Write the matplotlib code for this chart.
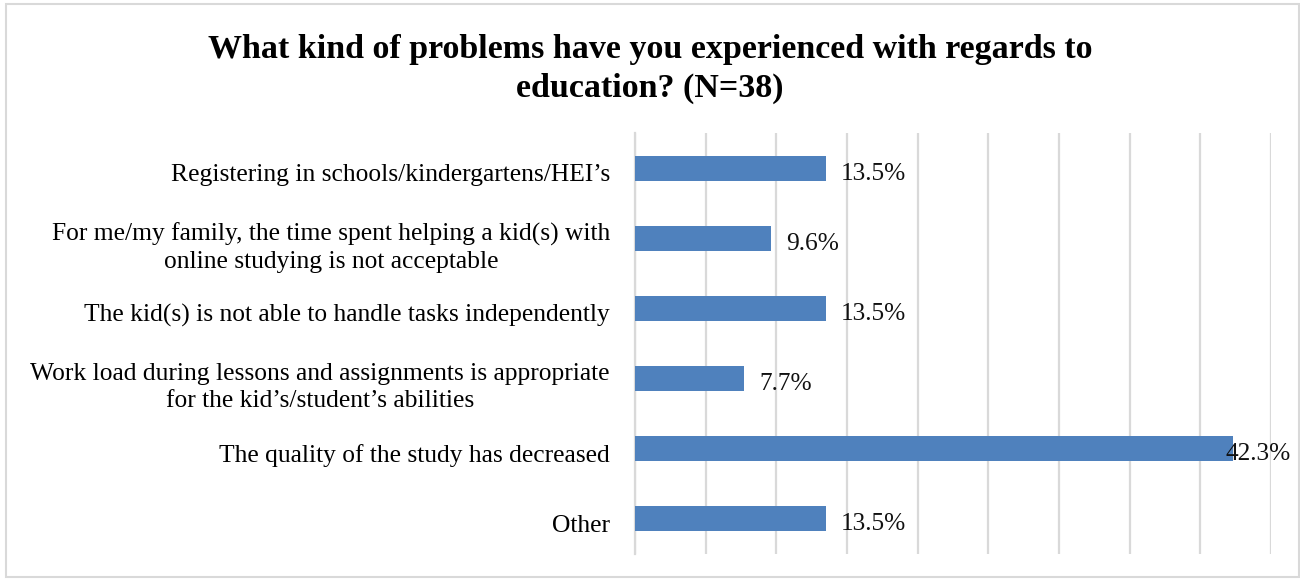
import matplotlib.pyplot as plt
import matplotlib.transforms as mtransforms
from matplotlib.patches import Rectangle

categories = [
    "Registering in schools/kindergartens/HEI\u2019s",
    "For me/my family, the time spent helping a kid(s) with\nonline studying is not acceptable",
    "The kid(s) is not able to handle tasks independently",
    "Work load during lessons and assignments is appropriate\nfor the kid\u2019s/student\u2019s abilities",
    "The quality of the study has decreased",
    "Other",
]
values = [13.5, 9.6, 13.5, 7.7, 42.3, 13.5]
value_labels = ["13.5%", "9.6%", "13.5%", "7.7%", "42.3%", "13.5%"]
title = "What kind of problems have you experienced with regards to\neducation? (N=38)"

plt.rcParams['font.family'] = ['Liberation Serif', 'DejaVu Serif']

W, H = 1300, 579
fig = plt.figure(figsize=(W / 100, H / 100), dpi=100)
fig.patch.set_facecolor('white')

# outer chart border
fig.add_artist(Rectangle((6 / W, 1 - 577 / H), (1299 - 6) / W, (577 - 4) / H,
                         transform=fig.transFigure, fill=False,
                         edgecolor='#d9d9d9', linewidth=1.5))

ax = fig.add_axes([635 / W, 1 - 554 / H, (1271 - 635) / W, (554 - 133) / H])

grid_color = '#d9d9d9'
y = list(range(len(categories)))
ax.barh(y, values, height=0.355, color='#4f81bd', zorder=3)

ax.set_xlim(0, 45)
ax.set_ylim(len(categories) - 0.5, -0.5)
ax.set_xticks(range(0, 46, 5))
ax.set_xticklabels([])
ax.tick_params(axis='both', length=0)
ax.xaxis.grid(True, color=grid_color, linewidth=1.6, zorder=0)
for s in ['top', 'right', 'bottom']:
    ax.spines[s].set_visible(False)
ax.spines['left'].set_color(grid_color)
ax.spines['left'].set_linewidth(1.6)

ax.set_yticks(y)
ax.set_yticklabels(categories, fontsize=18.4, multialignment='center',
                   linespacing=1.3)
ax.tick_params(axis='y', pad=18)
shift = mtransforms.ScaledTranslation(0, -3 / 72, fig.dpi_scale_trans)
for t in ax.get_yticklabels():
    t.set_transform(t.get_transform() + shift)

for yi, v, lab in zip(y, values, value_labels):
    dx = 11 if v < 40 else -5
    ax.annotate(lab, (v, yi), xytext=(dx, -4), textcoords='offset points',
                ha='left', va='center', fontsize=18.3, color='#111111')

fig.text(0.5, 1 - 69 / H, title, ha='center', va='center', fontsize=24.5,
         fontweight='bold', linespacing=1.3)

fig.savefig('out.png', dpi=100)
